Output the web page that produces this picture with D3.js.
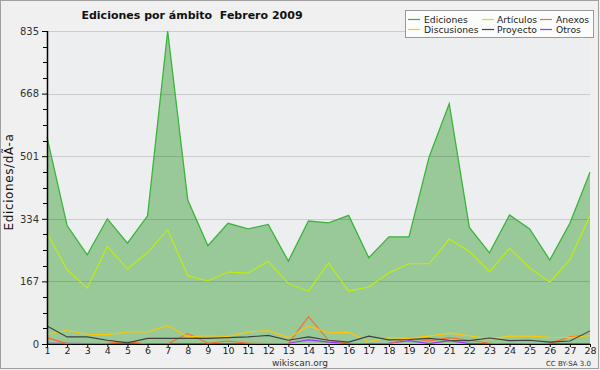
<!DOCTYPE html>
<html><head><meta charset="utf-8">
<script src="https://cdn.jsdelivr.net/npm/d3@7"></script>
<style>body{margin:0;background:#f0f0f0}svg{display:block}text{font-family:"DejaVu Sans",sans-serif}</style>
</head><body><svg id="c" width="600" height="370"></svg>
<script>
const days = d3.range(1, 29);
const ediciones = [552,316,238,334,269,342,835,384,262,322,307,319,221,328,323,343,230,286,286,499,641,311,243,344,307,224,322,458];
const articulos = [296,198,149,260,200,244,305,182,168,192,189,221,161,141,216,141,152,190,214,214,280,247,193,255,203,165,225,343];
const discusiones = [26,36,26,25,32,32,49,19,22,20,32,36,17,48,30,31,6,17,15,21,29,22,13,21,21,18,17,23];
const proyecto = [48,19,19,10,3,15,15,15,15,17,19,23,10,19,10,5,21,11,12,15,10,9,16,9,10,5,8,35];
const anexos = [17,1,0,2,6,0,0,28,2,8,2,1,1,73,10,2,0,0,16,8,17,10,2,0,1,2,19,24];
const otros = [2,2,1,1,1,1,1,1,1,1,1,1,2,11,5,1,1,2,9,1,9,1,1,1,1,1,1,1];
const yTicks = [0,167,334,501,668,835];
const title = "Ediciones por ámbito  Febrero 2009";
const yLabel = "Ediciones/dÃ-a";

const svg = d3.select("#c");
const L = 47, R = 590, T = 31, B = 344;
const x = d3.scaleLinear().domain([1, 28]).range([L, R]);
const y = d3.scaleLinear().domain([0, 835]).range([B, T]);

svg.append("rect").attr("x",0.5).attr("y",0.5).attr("width",598).attr("height",368)
  .attr("fill","#f0f0f0").attr("stroke","#a0a0a0");
svg.append("rect").attr("x",L).attr("y",T).attr("width",R-L).attr("height",B-T).attr("fill","#edeef0");

svg.append("path").datum(ediciones)
  .attr("d", d3.area().x((d,i)=>x(days[i])).y0(y(0)).y1(d=>y(d)))
  .attr("fill","#99c999");

svg.append("g").selectAll("line").data(yTicks.slice(1)).join("line")
  .attr("x1",L).attr("x2",R).attr("y1",d=>Math.round(y(d))+0.5).attr("y2",d=>Math.round(y(d))+0.5)
  .attr("stroke","rgba(0,0,0,0.14)");

const series = [
  {name:"Ediciones", data:ediciones, color:"#3cb43c", w:1.3},
  {name:"Artículos", data:articulos, color:"#c0f000", w:1.1},
  {name:"Anexos", data:anexos, color:"#ff6a22", w:1.1},
  {name:"Discusiones", data:discusiones, color:"#ffc800", w:1.1},
  {name:"Proyecto", data:proyecto, color:"#404040", w:1.1},
  {name:"Otros", data:otros, color:"#9933ff", w:1.1}
];
const line = d3.line().x((d,i)=>x(days[i])).y(d=>y(d));
[series[5],series[2],series[3],series[4],series[1],series[0]].forEach(s=>{
  svg.append("path").datum(s.data).attr("d",line).attr("fill","none")
    .attr("stroke",s.color).attr("stroke-width",s.w);
});

const ya = svg.append("g").attr("transform",`translate(${L},0)`)
  .call(d3.axisLeft(y).tickValues(yTicks).tickSize(5).tickFormat(d3.format("d")));
ya.select(".domain").remove();
ya.selectAll("text").attr("font-size",10).attr("fill","#333");
ya.selectAll("line").attr("stroke","#000");
const minor = d3.range(0, 835, 41.75).filter(v=>yTicks.indexOf(v)<0);
svg.append("g").selectAll("line").data(minor).join("line")
  .attr("x1",L-4).attr("x2",L).attr("y1",d=>Math.round(y(d))+0.5).attr("y2",d=>Math.round(y(d))+0.5)
  .attr("stroke","#000");
svg.append("line").attr("x1",L+0.5).attr("x2",L+0.5).attr("y1",T).attr("y2",B+1).attr("stroke","#000").attr("stroke-width",1.5);

const xa = svg.append("g").attr("transform",`translate(0,${B})`)
  .call(d3.axisBottom(x).tickValues(days).tickSize(3).tickPadding(0).tickFormat(d3.format("d")));
xa.select(".domain").attr("stroke","#000");
xa.selectAll("text").attr("font-size",9.5).attr("fill","#222");
xa.selectAll("line").attr("stroke","#000");

svg.append("text").attr("x",192).attr("y",19).attr("text-anchor","middle").attr("xml:space","preserve")
  .style("white-space","pre")
  .attr("font-size",11).attr("font-weight","bold").attr("fill","#111").text(title);
svg.append("text").attr("transform","translate(13,182) rotate(-90)").attr("text-anchor","middle")
  .attr("font-size",12).attr("letter-spacing",0.6).attr("fill","#111").text(yLabel);
svg.append("text").attr("x",300).attr("y",366).attr("text-anchor","middle")
  .attr("font-size",9).attr("fill","#333").text("wikiscan.org");
svg.append("text").attr("x",591).attr("y",366).attr("text-anchor","end")
  .attr("font-size",7).attr("fill","#333").text("CC BY-SA 3.0");

const lg = svg.append("g");
lg.append("rect").attr("x",405.5).attr("y",10.5).attr("width",188).attr("height",27)
  .attr("fill","#fcfcfc").attr("stroke","#999");
const colX = [408,482,540], textX=[424,497,556], rowY=[19,29];
series.forEach((s,i)=>{
  const c=i%3, r=Math.floor(i/3);
  lg.append("line").attr("x1",colX[c]).attr("x2",colX[c]+12).attr("y1",rowY[r]+0.5).attr("y2",rowY[r]+0.5)
    .attr("stroke",s.color).attr("stroke-width",1.2);
  lg.append("text").attr("x",textX[c]).attr("y",rowY[r]+4).attr("font-size",9.2)
    .attr("font-family","Liberation Sans").attr("fill","#222").text(s.name);
});
</script></body></html>
